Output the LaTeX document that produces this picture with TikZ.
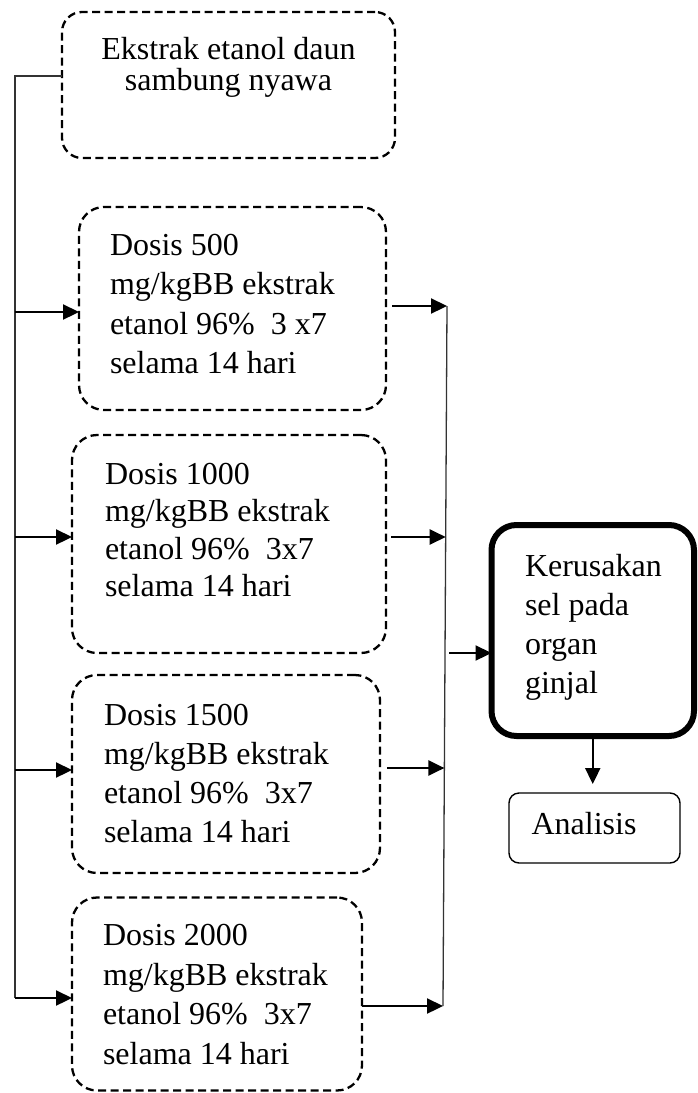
\documentclass[tikz,border=0pt]{standalone}
\usepackage{fontspec}
\setmainfont{Liberation Serif}
\usetikzlibrary{arrows.meta}
\begin{document}
\begin{tikzpicture}[x=1pt,y=-1pt,
  dbox/.style={draw, dash pattern=on 8pt off 4.5pt, line width=2.3pt, rounded corners=25pt, inner sep=0pt, outer sep=0pt},
  kbox/.style={draw, line width=6pt, rounded corners=25pt, inner sep=0pt, outer sep=0pt},
  abox/.style={draw, line width=1.4pt, rounded corners=10pt, inner sep=0pt, outer sep=0pt},
  lead/.style={font=\fontsize{32}{#1}\selectfont},
  txt/.style={inner sep=0pt, outer sep=0pt, align=left, anchor=north west},
  arr/.style={line width=2.3pt, -{Triangle[length=16pt,width=15pt]}},
  spine/.style={line width=1.3pt, black!80}]
\useasboundingbox (0,0) rectangle (697,1093);

% boxes
\node[dbox, rounded corners=20pt, minimum width=333pt, minimum height=146pt] (T) at (228.5,85) {};
\node[dbox, minimum width=307pt, minimum height=203pt] (B1) at (232.5,308.5) {};
\node[dbox, minimum width=314pt, minimum height=218pt] (B2) at (229,544) {};
\node[dbox, minimum width=308pt, minimum height=198pt] (B3) at (226,774) {};
\node[dbox, minimum width=290pt, minimum height=193pt] (B4) at (217,994) {};
\node[kbox, minimum width=202.5pt, minimum height=211pt] (K) at (592.75,630.5) {};
\node[abox, minimum width=171pt, minimum height=70pt] (A) at (594.5,828) {};

% texts
\node[inner sep=0pt, align=center, anchor=north, lead=31] (Tt) at (228.5,37) {Ekstrak etanol daun\\sambung nyawa};
\node[txt, lead=39.5] (t1) at (110,234) {Dosis 500\\mg/kgBB ekstrak\\etanol 96\%\ \ 3 x7\\selama 14 hari};
\node[txt, lead=37.5] (t2) at (105,463) {Dosis 1000\\mg/kgBB ekstrak\\etanol 96\%\ \ 3x7\\selama 14 hari};
\node[txt, lead=39] (t3) at (104,704) {Dosis 1500\\mg/kgBB ekstrak\\etanol 96\%\ \ 3x7\\selama 14 hari};
\node[txt, lead=39.8] (t4) at (103,924) {Dosis 2000\\mg/kgBB ekstrak\\etanol 96\%\ \ 3x7\\selama 14 hari};
\node[txt, lead=39] (tk) at (525,554) {Kerusakan\\sel pada\\organ\\ginjal};
\node[inner sep=0pt, anchor=base, lead=39] (ta) at (584,834) {Analisis};

% left spine
\coordinate (s0) at (15,76);
\coordinate (l1) at (15,312);
\coordinate (l2) at (15,537);
\coordinate (l3) at (15,770);
\coordinate (l4) at (15,998);
\draw[spine] (s0 -| T.west) -- (s0) -- (l4);
\draw[arr] (l1) -- (l1 -| B1.west);
\draw[arr] (l2) -- (l2 -| B2.west);
\draw[arr] (l3) -- (l3 -| B3.west);
\draw[arr] (l4) -- (l4 -| B4.west);

% right spine
\coordinate (r1) at (447,306);
\coordinate (r2) at (445.7,537);
\coordinate (r3) at (444.4,768);
\coordinate (r4) at (443,1006);
\draw[spine] (r1) -- (r4);
\draw[arr, shorten <=6pt] (B1.east |- r1) -- (r1);
\draw[arr, shorten <=5pt] (B2.east |- r2) -- (r2);
\draw[arr, shorten <=7pt] (B3.east |- r3) -- (r3);
\draw[arr] (B4.east |- r4) -- (r4);

% to result
\coordinate (m) at (449,653);
\draw[arr] (m) -- (m -| K.west);
\draw[arr, shorten >=9pt] (K.south) -- (K.south |- A.north);
\end{tikzpicture}
\end{document}
